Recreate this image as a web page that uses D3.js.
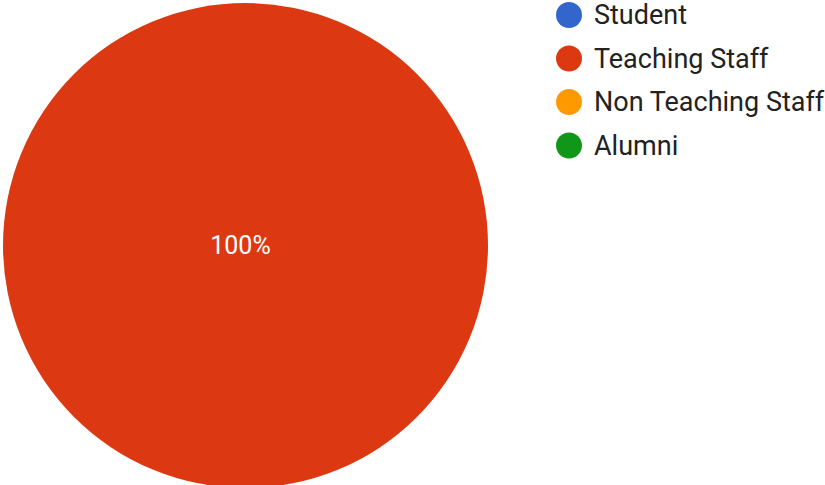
<!DOCTYPE html>
<html lang="en">
<head>
	<meta charset="utf-8">
	<title>Respondents</title>
	<script src="https://d3js.org/d3.v7.min.js"></script>
	<style type="text/css">
		body { margin: 0; background: #fff; }
		text { font-family: Roboto, "Noto Sans", sans-serif; }
	</style>
</head>
<body>
	<script type="text/javascript">

		// data
		let categories = ["Student", "Teaching Staff", "Non Teaching Staff", "Alumni"];
		let values = [0, 100, 0, 0];
		let colors = ["#3366cc", "#dc3912", "#ff9900", "#109618"];

		let w = 825;
		let h = 485;
		let cx = 245.5, cy = 245.5, radius = 242.5;

		let svg = d3.select("body")
			.append("svg")
			.attr("width", w)
			.attr("height", h);

		let color = d3.scaleOrdinal()
			.domain(categories)
			.range(colors);

		let pie = d3.pie()
			.sort(null)
			.value(function (d, i) { return values[i]; });

		let arcs = pie(categories);
		let total = d3.sum(values);

		let arc = d3.arc()
			.innerRadius(0)
			.outerRadius(radius);

		let g = svg.append("g")
			.attr("transform", "translate(" + cx + "," + cy + ")");

		//slices
		g.selectAll("path")
			.data(arcs.filter(function (d) { return d.value > 0; }))
			.enter()
			.append("path")
			.attr("d", arc)
			.attr("fill", function (d) { return color(d.data); });

		//percentage labels
		let labelArc = d3.arc().innerRadius(radius * 0.6).outerRadius(radius * 0.6);
		g.selectAll("text.pct")
			.data(arcs.filter(function (d) { return d.value > 0; }))
			.enter()
			.append("text")
			.attr("class", "pct")
			.attr("transform", function (d) {
				// a full circle keeps its label in the middle
				if (d.endAngle - d.startAngle >= 2 * Math.PI - 1e-6) return "translate(-5,0)";
				return "translate(" + labelArc.centroid(d) + ")";
			})
			.attr("text-anchor", "middle")
			.attr("dy", "0.35em")
			.attr("font-size", "25px")
			.attr("fill", "#ffffff")
			.text(function (d) { return Math.round(d.value / total * 100) + "%"; });

		//legend
		let legend = svg.append("g")
			.attr("transform", "translate(569,15)");

		let rowH = 43.5;

		legend.selectAll("circle")
			.data(categories)
			.enter()
			.append("circle")
			.attr("cx", 0)
			.attr("cy", function (d, i) { return i * rowH; })
			.attr("r", 13)
			.attr("fill", function (d) { return color(d); });

		legend.selectAll("text")
			.data(categories)
			.enter()
			.append("text")
			.attr("x", 25)
			.attr("y", function (d, i) { return i * rowH; })
			.attr("dy", "0.35em")
			.attr("font-size", "27px")
			.attr("fill", "#222222")
			.text(function (d) { return d; });

	</script>
</body>
</html>
